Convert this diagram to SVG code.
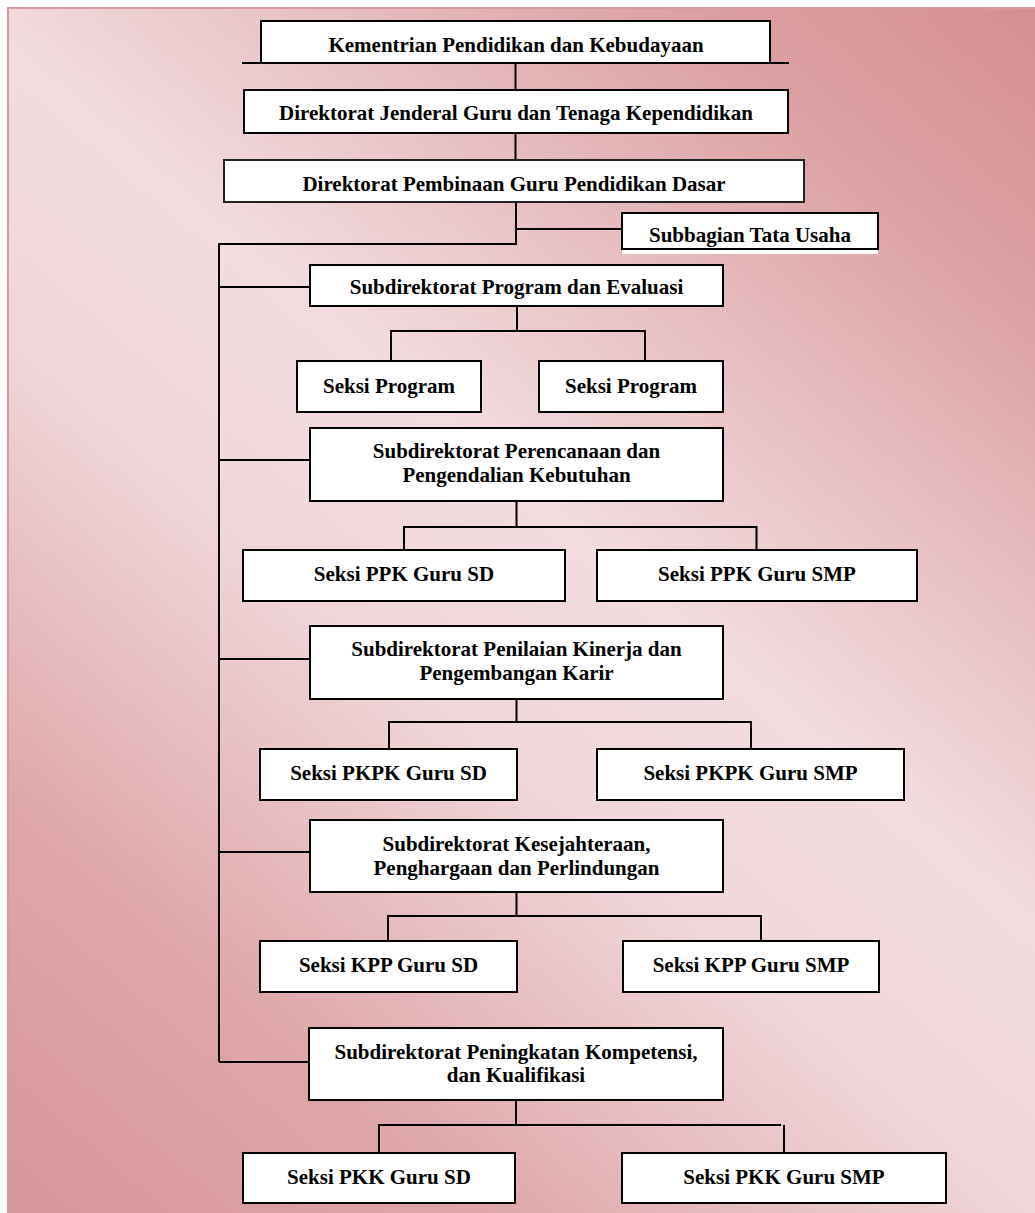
<svg xmlns="http://www.w3.org/2000/svg" width="1035" height="1213" viewBox="0 0 1035 1213">
<defs>
<linearGradient id="bg" gradientUnits="userSpaceOnUse" x1="0" y1="1213" x2="1035" y2="0">
<stop offset="0" stop-color="#d7959a"/>
<stop offset="0.2" stop-color="#dfa7aa"/>
<stop offset="0.42" stop-color="#f0d6d9"/>
<stop offset="0.56" stop-color="#f2dcdf"/>
<stop offset="0.7" stop-color="#e8c0c3"/>
<stop offset="0.85" stop-color="#dca1a3"/>
<stop offset="1" stop-color="#d68f91"/>
</linearGradient>
<style>
.box{fill:#ffffff;stroke:#000;stroke-width:2}
.ln{fill:none;stroke:#000;stroke-width:2}
.t{font-family:"Liberation Serif","Times New Roman",serif;font-weight:bold;font-size:21px;fill:#000;text-anchor:middle}
</style>
</defs>
<rect x="0" y="0" width="1035" height="1213" fill="#ffffff"/>
<rect x="8" y="8" width="1030" height="1210" fill="url(#bg)" stroke="#d99a9d" stroke-width="2"/>

<g id="connectors">
<path class="ln" d="M515.5 63 V90"/>
<path class="ln" d="M515.5 133 V160"/>
<path class="ln" d="M516 202 V244 H219 V1062"/>
<path class="ln" d="M516 229 H622"/>
<path class="ln" d="M219 287 H310"/>
<path class="ln" d="M219 460 H310"/>
<path class="ln" d="M219 659 H310"/>
<path class="ln" d="M219 852 H310"/>
<path class="ln" d="M219 1062 H309"/>
<path class="ln" d="M517 306 V331 M391 361 V331 H645 V361"/>
<path class="ln" d="M516.5 501 V527 M404 550 V527 H756.5 V550"/>
<path class="ln" d="M516.5 699 V722 M389 749 V722 H751 V749"/>
<path class="ln" d="M516.5 892 V916 M388 941 V916 H761 V941"/>
<path class="ln" d="M516 1100 V1125 M379 1153 V1125 H781"/>
<path class="ln" d="M784 1125 V1153"/>
</g>

<g id="n-kementrian">
<rect class="box" x="261" y="21" width="509" height="42"/>
<line class="ln" x1="242" y1="63" x2="789" y2="63"/>
<text class="t" x="516" y="52">Kementrian Pendidikan dan Kebudayaan</text>
</g>
<g id="n-dirjen">
<rect class="box" x="244" y="90" width="544" height="43"/>
<text class="t" x="516" y="120">Direktorat Jenderal Guru dan Tenaga Kependidikan</text>
</g>
<g id="n-direktorat">
<rect class="box" x="224" y="160" width="580" height="42" style="stroke:#222"/>
<text class="t" x="514" y="191">Direktorat Pembinaan Guru Pendidikan Dasar</text>
</g>
<g id="n-subbagian">
<rect x="622" y="250" width="256" height="4" fill="#ffffff"/>
<rect class="box" x="622" y="213" width="256" height="36"/>
<text class="t" x="750" y="242">Subbagian Tata Usaha</text>
</g>
<g id="n-program">
<rect class="box" x="310" y="265" width="413" height="41"/>
<text class="t" x="516.5" y="294">Subdirektorat Program dan Evaluasi</text>
</g>
<g id="n-seksi-program-1">
<rect class="box" x="297" y="361" width="184" height="51"/>
<text class="t" x="389" y="393">Seksi Program</text>
</g>
<g id="n-seksi-program-2">
<rect class="box" x="539" y="361" width="184" height="51"/>
<text class="t" x="631" y="393">Seksi Program</text>
</g>
<g id="n-perencanaan">
<rect class="box" x="310" y="428" width="413" height="73"/>
<text class="t" x="516.5" y="458">Subdirektorat Perencanaan dan</text>
<text class="t" x="516.5" y="482">Pengendalian Kebutuhan</text>
</g>
<g id="n-ppk-sd">
<rect class="box" x="243" y="550" width="322" height="51"/>
<text class="t" x="404" y="581">Seksi PPK Guru SD</text>
</g>
<g id="n-ppk-smp">
<rect class="box" x="597" y="550" width="320" height="51"/>
<text class="t" x="757" y="581">Seksi PPK Guru SMP</text>
</g>
<g id="n-penilaian">
<rect class="box" x="310" y="626" width="413" height="73"/>
<text class="t" x="516.5" y="656">Subdirektorat Penilaian Kinerja dan</text>
<text class="t" x="516.5" y="680">Pengembangan Karir</text>
</g>
<g id="n-pkpk-sd">
<rect class="box" x="260" y="749" width="257" height="51"/>
<text class="t" x="388.5" y="780">Seksi PKPK Guru SD</text>
</g>
<g id="n-pkpk-smp">
<rect class="box" x="597" y="749" width="307" height="51"/>
<text class="t" x="750.5" y="780">Seksi PKPK Guru SMP</text>
</g>
<g id="n-kesejahteraan">
<rect class="box" x="310" y="820" width="413" height="72"/>
<text class="t" x="516.5" y="851">Subdirektorat Kesejahteraan,</text>
<text class="t" x="516.5" y="875">Penghargaan dan Perlindungan</text>
</g>
<g id="n-kpp-sd">
<rect class="box" x="260" y="941" width="257" height="51"/>
<text class="t" x="388.5" y="972">Seksi KPP Guru SD</text>
</g>
<g id="n-kpp-smp">
<rect class="box" x="623" y="941" width="256" height="51"/>
<text class="t" x="751" y="972">Seksi KPP Guru SMP</text>
</g>
<g id="n-peningkatan">
<rect class="box" x="309" y="1028" width="414" height="72"/>
<text class="t" x="516" y="1059">Subdirektorat Peningkatan Kompetensi,</text>
<text class="t" x="516" y="1082">dan Kualifikasi</text>
</g>
<g id="n-pkk-sd">
<rect class="box" x="243" y="1153" width="272" height="50"/>
<text class="t" x="379" y="1184">Seksi PKK Guru SD</text>
</g>
<g id="n-pkk-smp">
<rect class="box" x="622" y="1153" width="324" height="50"/>
<text class="t" x="784" y="1184">Seksi PKK Guru SMP</text>
</g>
</svg>
